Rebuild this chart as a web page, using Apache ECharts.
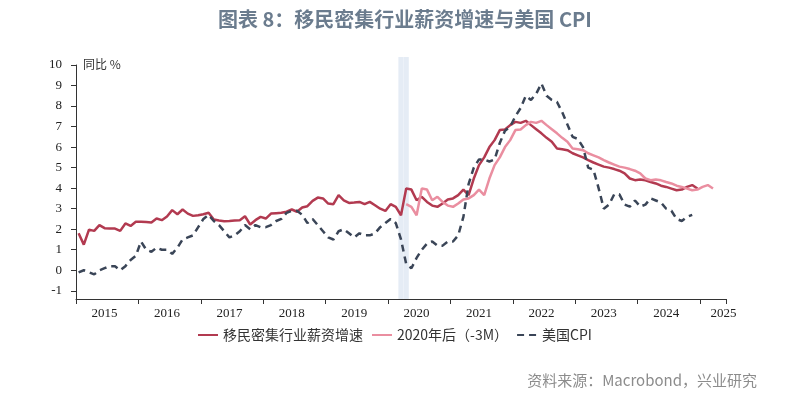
<!DOCTYPE html>
<html>
<head>
<meta charset="utf-8">
<script src="https://cdn.jsdelivr.net/npm/echarts@6/dist/echarts.min.js"></script>
<style>
  html, body { margin: 0; padding: 0; background: #fff; }
  #chart { width: 810px; height: 397px; }
</style>
</head>
<body>
<div id="chart"></div>
<script>
// 月度类目 2015-01 ~ 2025-05
const months = []
for (let y = 2015; y <= 2025; y++) {
  for (let m = 1; m <= 12; m++) {
    if (y === 2025 && m > 5) break
    months.push(y + '-' + String(m).padStart(2, '0'))
  }
}

// 移民密集行业薪资增速 2015-01 ~ 2024-12
const wageGrowth = [
  1.80, 1.25, 1.98, 1.92, 2.20, 2.05, 2.03, 2.03, 1.92, 2.28, 2.16, 2.36,
  2.36, 2.35, 2.33, 2.52, 2.44, 2.62, 2.93, 2.73, 2.96, 2.76, 2.65, 2.68,
  2.73, 2.80, 2.47, 2.42, 2.39, 2.40, 2.42, 2.44, 2.63, 2.23, 2.44, 2.60,
  2.52, 2.76, 2.78, 2.80, 2.85, 2.96, 2.85, 3.06, 3.12, 3.38, 3.54, 3.50,
  3.25, 3.22, 3.66, 3.41, 3.28, 3.30, 3.33, 3.22, 3.33, 3.17, 3.00, 2.89,
  3.22, 3.09, 2.68, 3.98, 3.93, 3.41, 3.58, 3.33, 3.15, 3.09, 3.25, 3.45,
  3.50, 3.66, 3.93, 3.66, 4.47, 5.12, 5.50, 6.00, 6.34, 6.83, 6.86, 7.07,
  7.23, 7.18, 7.28, 7.07, 6.87, 6.67, 6.45, 6.26, 5.93, 5.90, 5.85, 5.70,
  5.60, 5.50, 5.37, 5.25, 5.15, 5.05, 5.00, 4.93, 4.85, 4.72, 4.47, 4.39,
  4.42, 4.38, 4.30, 4.23, 4.12, 4.06, 3.98, 3.90, 3.93, 4.06, 4.15, 3.98
]

// 2020年后（-3M） 2020-04 ~ 2025-03
const wageLagStart = '2020-04'
const wageLag = [
  3.22, 3.09, 2.68, 3.98, 3.93, 3.41, 3.58, 3.33, 3.15,
  3.09, 3.25, 3.45, 3.50, 3.66, 3.93, 3.66, 4.47, 5.12, 5.50, 6.00, 6.34,
  6.83, 6.86, 7.07, 7.23, 7.18, 7.28, 7.07, 6.87, 6.67, 6.45, 6.26, 5.93,
  5.90, 5.85, 5.70, 5.60, 5.50, 5.37, 5.25, 5.15, 5.05, 5.00, 4.93, 4.85,
  4.72, 4.47, 4.39, 4.42, 4.38, 4.30, 4.23, 4.12, 4.06, 3.98, 3.90, 3.93,
  4.06, 4.15, 3.98
]

// 美国CPI 2015-01 ~ 2024-11
const usCpi = [
  -0.1, 0.0, -0.1, -0.2, 0.0, 0.1, 0.2, 0.2, 0.0, 0.2, 0.5, 0.7,
  1.4, 1.0, 0.9, 1.1, 1.0, 1.0, 0.8, 1.1, 1.5, 1.6, 1.7, 2.1,
  2.5, 2.7, 2.4, 2.2, 1.9, 1.6, 1.7, 1.9, 2.2, 2.0, 2.2, 2.1,
  2.1, 2.2, 2.4, 2.5, 2.8, 2.9, 2.9, 2.7, 2.3, 2.5, 2.2, 1.9,
  1.6, 1.5, 1.9, 2.0, 1.8, 1.6, 1.8, 1.7, 1.7, 1.8, 2.1, 2.3,
  2.5, 2.3, 1.5, 0.3, 0.1, 0.6, 1.0, 1.3, 1.4, 1.2, 1.2, 1.4,
  1.4, 1.7, 2.6, 4.2, 5.0, 5.4, 5.4, 5.3, 5.4, 6.2, 6.8, 7.0,
  7.5, 7.9, 8.5, 8.3, 8.6, 9.1, 8.5, 8.3, 8.2, 7.7, 7.1, 6.5,
  6.4, 6.0, 5.0, 4.9, 4.0, 3.0, 3.2, 3.7, 3.7, 3.2, 3.1, 3.4,
  3.1, 3.2, 3.5, 3.4, 3.3, 3.0, 2.9, 2.5, 2.4, 2.6, 2.7
]

// 衰退阴影区间
const recessionMonths = ['2020-03', '2020-04']
const yTicks = [-1, 0, 1, 2, 3, 4, 5, 6, 7, 8, 9, 10]

const seriesNames = ['移民密集行业薪资增速', '2020年后（-3M）', '美国CPI']

const lagStartIdx = months.indexOf(wageLagStart)
const wageLagData = months.map((m, i) => {
  const k = i - lagStartIdx
  return k >= 0 && k < wageLag.length ? wageLag[k] : null
})
const bandData = months.map(m => recessionMonths.includes(m) ? 1 : null)

const chart = echarts.init(document.getElementById('chart'))
chart.setOption({
  animation: false,
  title: {
    text: '图表 8：移民密集行业薪资增速与美国 CPI',
    left: 'center',
    top: 4,
    textStyle: {
      fontFamily: 'Noto Sans CJK SC',
      fontSize: 20,
      fontWeight: 'bold',
      color: '#6b7c8e'
    }
  },
  graphic: [
    {
      type: 'text',
      left: 83,
      top: 58,
      style: { text: '同比 %', fontFamily: 'Noto Sans CJK SC', fontSize: 12, fill: '#333' }
    },
    {
      type: 'text',
      right: 53,
      top: 373,
      style: { text: '资料来源：Macrobond，兴业研究', fontFamily: 'Noto Sans CJK SC', fontSize: 15, fill: '#8c8c8c' }
    }
  ],
  legend: {
    data: seriesNames,
    left: 192,
    top: 323,
    itemWidth: 20,
    itemHeight: 12,
    itemGap: 8,
    itemStyle: { opacity: 0 },
    textStyle: { fontFamily: 'Noto Sans CJK SC', fontSize: 14, color: '#333' }
  },
  grid: { left: 76, right: 84, top: 65, bottom: 98 },
  xAxis: {
    type: 'category',
    data: months,
    boundaryGap: true,
    axisLine: { show: true, onZero: false, lineStyle: { color: '#333', width: 1 } },
    axisTick: {
      show: true,
      length: 5,
      interval: 11,
      lineStyle: { color: '#333', width: 1 }
    },
    axisLabel: {
      interval: (i) => i % 12 === 5 || i === months.length - 1,
      formatter: (v) => v.slice(0, 4),
      margin: 8,
      fontFamily: 'Liberation Serif',
      fontSize: 13,
      color: '#222'
    },
    splitLine: { show: false }
  },
  yAxis: [
    {
      type: 'value',
      min: -1.4,
      max: 10,
      axisLine: { show: true, lineStyle: { color: '#333', width: 1 } },
      axisTick: { show: true, length: 5, customValues: yTicks, lineStyle: { color: '#333' } },
      axisLabel: {
        customValues: yTicks,
        margin: 14,
        fontFamily: 'Liberation Serif',
        fontSize: 13,
        color: '#222'
      },
      splitLine: { show: false }
    },
    { type: 'value', min: 0, max: 0.967, show: false }
  ],
  series: [
    {
      name: 'band',
      type: 'bar',
      yAxisIndex: 1,
      data: bandData,
      barWidth: '100%',
      barGap: '0%',
      clip: false,
      silent: true,
      z: 0,
      itemStyle: { color: '#e5ecf5' }
    },
    {
      name: seriesNames[0],
      type: 'line',
      data: wageGrowth,
      symbol: 'none',
      lineStyle: { color: '#b23a50', width: 2.5 },
      itemStyle: { color: '#b23a50' }
    },
    {
      name: seriesNames[1],
      type: 'line',
      data: wageLagData,
      symbol: 'none',
      lineStyle: { color: '#ea8ea0', width: 2.5 },
      itemStyle: { color: '#ea8ea0' }
    },
    {
      name: seriesNames[2],
      type: 'line',
      data: usCpi,
      symbol: 'none',
      lineStyle: { color: '#3a4557', width: 2.5, type: [7, 5] },
      itemStyle: { color: '#3a4557' }
    }
  ]
})
</script>
</body>
</html>
